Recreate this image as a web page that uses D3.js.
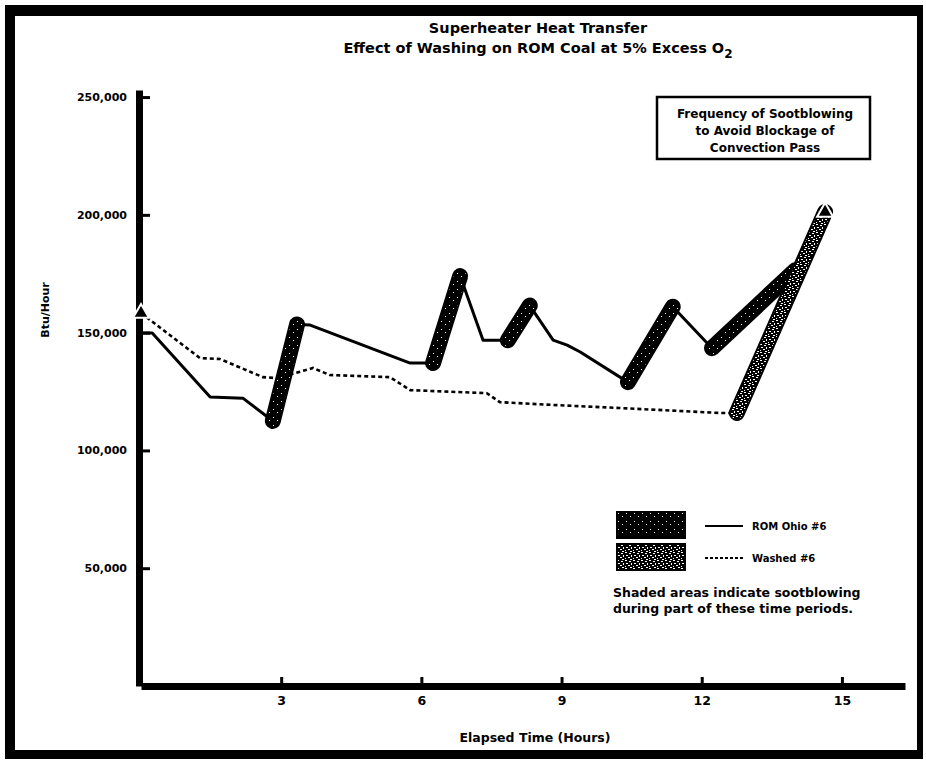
<!DOCTYPE html>
<html>
<head>
<meta charset="utf-8">
<script src="https://cdn.jsdelivr.net/npm/d3@7"></script>
<style>
  body { margin: 0; background: #fff; }
  text { font-family: "DejaVu Sans", "Liberation Sans", Arial, sans-serif; font-weight: bold; fill: #000; }
</style>
</head>
<body>
<div class="heatChart"></div>
<script>
// ROM Ohio #6 (solid line) - elapsed hours and Btu/hour
const romHours = [0, 0.24, 1.48, 2.18, 2.82, 3.34, 3.62, 5.76, 6.25, 6.83, 7.32, 7.85, 8.32, 8.82, 9.12, 9.40, 10.42, 11.38, 12.22, 14.0];
const romValues = [149800, 149800, 122700, 122200, 112500, 153500, 153200, 137100, 137100, 174000, 146800, 146800, 161500, 146800, 144700, 141800, 129000, 161000, 143400, 176500];

// Washed #6 (dotted line)
const washHours = [0, 1.26, 1.69, 2.61, 2.91, 3.51, 3.68, 4.04, 5.33, 5.76, 7.40, 7.68, 8.82, 10.25, 12.39, 12.75, 14.64];
const washValues = [158300, 139200, 138800, 131100, 130700, 134000, 135000, 132000, 131100, 125600, 124300, 120500, 119300, 118000, 115900, 115900, 201200];

// sootblowing periods (hours) shown as shaded bands
const romSoot = [[2.82, 3.34], [6.25, 6.83], [7.85, 8.32], [10.42, 11.38], [12.22, 14.0]];
const washSoot = [[12.75, 14.64]];

const xTicks = [3, 6, 9, 12, 15];
const yTicks = [50000, 100000, 150000, 200000, 250000];
const yTickLabels = ["50,000", "100,000", "150,000", "200,000", "250,000"];

const titleLines = ["Superheater Heat Transfer", "Effect of Washing on ROM Coal at 5% Excess O"];
const boxLines = ["Frequency of Sootblowing", "to Avoid Blockage of", "Convection Pass"];
const noteLines = ["Shaded areas indicate sootblowing", "during part of these time periods."];
const seriesNames = ["ROM Ohio #6", "Washed #6"];

const rom = romHours.map((h, i) => ({ h: h, v: romValues[i] }));
const wash = washHours.map((h, i) => ({ h: h, v: washValues[i] }));

const svg = d3.select(".heatChart")
  .append("svg")
  .attr("width", 926)
  .attr("height", 760);

svg.append("rect").attr("width", 926).attr("height", 760).attr("fill", "#fff");

// textures for the shaded sootblowing bands
const defs = svg.append("defs");
const stipple = defs.append("pattern")
  .attr("id", "stipple")
  .attr("patternUnits", "userSpaceOnUse")
  .attr("width", 8).attr("height", 8);
stipple.append("rect").attr("width", 8).attr("height", 8).attr("fill", "#000");
[[1, 1, 1, 1], [5, 4, 1, 1]].forEach(s => {
  stipple.append("rect").attr("x", s[0]).attr("y", s[1]).attr("width", s[2]).attr("height", s[3]).attr("fill", "#fff");
});

const hatch = defs.append("pattern")
  .attr("id", "hatch")
  .attr("patternUnits", "userSpaceOnUse")
  .attr("width", 8).attr("height", 8);
hatch.append("rect").attr("width", 8).attr("height", 8).attr("fill", "#000");
[[0, 0, 2, 1], [4, 1, 2, 1], [1, 3, 2, 1], [6, 3, 1, 2], [3, 5, 2, 1], [0, 6, 1, 1], [5, 7, 2, 1]].forEach(s => {
  hatch.append("rect").attr("x", s[0]).attr("y", s[1]).attr("width", s[2]).attr("height", s[3]).attr("fill", "#fff");
});

// scales
const x = d3.scaleLinear().domain([0, 16.35]).range([141, 905]);
const y = d3.scaleLinear().domain([0, 253000]).range([686, 90]);

// outer frame
const frame = svg.append("g").attr("fill", "#000");
frame.append("rect").attr("x", 5).attr("y", 5).attr("width", 918).attr("height", 11);
frame.append("rect").attr("x", 5).attr("y", 5).attr("width", 10).attr("height", 754);
frame.append("rect").attr("x", 917).attr("y", 5).attr("width", 6).attr("height", 754);
frame.append("rect").attr("x", 5).attr("y", 750).attr("width", 918).attr("height", 9);

// title
svg.append("g").selectAll("text")
  .data(titleLines)
  .join("text")
  .attr("x", 538)
  .attr("y", (d, i) => 33 + i * 20)
  .attr("text-anchor", "middle")
  .style("font-size", "14.5px")
  .text(d => d)
  .filter((d, i) => i === 1)
  .append("tspan")
  .attr("dy", 5)
  .style("font-size", "12px")
  .text("2");

// y axis (ticks point into the plot)
const yAxis = svg.append("g")
  .attr("transform", `translate(${x(0) - 2},0)`)
  .call(d3.axisLeft(y).tickValues(yTicks).tickSize(-11).tickSizeOuter(0).tickPadding(12)
    .tickFormat((d, i) => yTickLabels[i]));
yAxis.select(".domain").attr("stroke", "#000").attr("stroke-width", 7);
yAxis.selectAll(".tick line").attr("stroke", "#000").attr("stroke-width", 3);
yAxis.selectAll(".tick text").style("font-size", "11px").style("font-family", "DejaVu Sans, sans-serif").style("font-weight", "bold");

// x axis
const xAxis = svg.append("g")
  .attr("transform", `translate(0,${y(0)})`)
  .call(d3.axisBottom(x).tickValues(xTicks).tickSize(-9).tickSizeOuter(0).tickPadding(10));
xAxis.select(".domain").attr("stroke", "#000").attr("stroke-width", 7);
xAxis.selectAll(".tick line").attr("stroke", "#000").attr("stroke-width", 3);
xAxis.selectAll(".tick text").style("font-size", "12.5px").style("font-family", "DejaVu Sans, sans-serif").style("font-weight", "bold");

// axis titles
svg.append("text")
  .attr("x", 535)
  .attr("y", 742)
  .attr("text-anchor", "middle")
  .style("font-size", "12.5px")
  .text("Elapsed Time (Hours)");

svg.append("text")
  .attr("transform", "translate(49,310) rotate(-90)")
  .attr("text-anchor", "middle")
  .style("font-size", "11px")
  .text("Btu/Hour");

// lines
const line = d3.line().x(d => x(d.h)).y(d => y(d.v));

svg.append("path")
  .datum(wash)
  .attr("d", line)
  .attr("fill", "none")
  .attr("stroke", "#000")
  .attr("stroke-width", 2.6)
  .attr("stroke-dasharray", "4,3");

svg.append("path")
  .datum(rom)
  .attr("d", line)
  .attr("fill", "none")
  .attr("stroke", "#000")
  .attr("stroke-width", 3)
  .attr("stroke-linejoin", "round");

// shaded sootblowing bands
function drawBands(series, periods, texture) {
  periods.forEach(p => {
    const pts = series.filter(d => d.h >= p[0] - 1e-6 && d.h <= p[1] + 1e-6);
    svg.append("path")
      .datum(pts)
      .attr("d", line)
      .attr("fill", "none")
      .attr("stroke", "#000")
      .attr("stroke-width", 16)
      .attr("stroke-linecap", "round")
      .attr("stroke-linejoin", "round");
    svg.append("path")
      .datum(pts)
      .attr("d", line)
      .attr("fill", "none")
      .attr("stroke", `url(#${texture})`)
      .attr("stroke-width", 12)
      .attr("stroke-linecap", "round")
      .attr("stroke-linejoin", "round");
  });
}
drawBands(rom, romSoot, "stipple");
drawBands(wash, washSoot, "hatch");

// start / end markers on the washed series
svg.append("g").selectAll("path")
  .data([wash[0], wash[wash.length - 1]])
  .join("path")
  .attr("transform", d => `translate(${x(d.h)},${y(d.v)})`)
  .attr("d", d3.symbol(d3.symbolTriangle, 110))
  .attr("fill", "#000")
  .attr("stroke", "#fff")
  .attr("stroke-width", 2);

// boxed note
svg.append("rect")
  .attr("x", 657).attr("y", 97)
  .attr("width", 213).attr("height", 62)
  .attr("fill", "#fff")
  .attr("stroke", "#000")
  .attr("stroke-width", 2.5);
svg.append("g").selectAll("text")
  .data(boxLines)
  .join("text")
  .attr("x", 765)
  .attr("y", (d, i) => 118 + i * 17)
  .attr("text-anchor", "middle")
  .style("font-size", "12px")
  .text(d => d);

// legend
const legend = svg.append("g").attr("transform", "translate(617,512)");
const legendItems = legend.selectAll("g")
  .data(seriesNames)
  .join("g")
  .attr("transform", (d, i) => `translate(0, ${i * 32})`);

legendItems.append("rect")
  .attr("width", 68)
  .attr("height", 26)
  .attr("fill", (d, i) => i === 0 ? "url(#stipple)" : "url(#hatch)")
  .attr("stroke", "#000")
  .attr("stroke-width", 2);

legendItems.append("line")
  .attr("x1", 88).attr("x2", 126)
  .attr("y1", 14).attr("y2", 14)
  .attr("stroke", "#000")
  .attr("stroke-width", 2)
  .attr("stroke-dasharray", (d, i) => i === 0 ? null : "3,2");

legendItems.append("text")
  .attr("x", 135)
  .attr("y", 18)
  .style("font-size", "10px")
  .text(d => d);

svg.append("g").selectAll("text")
  .data(noteLines)
  .join("text")
  .attr("x", 613)
  .attr("y", (d, i) => 597 + i * 16)
  .style("font-size", "12.5px")
  .text(d => d);
</script>
</body>
</html>
